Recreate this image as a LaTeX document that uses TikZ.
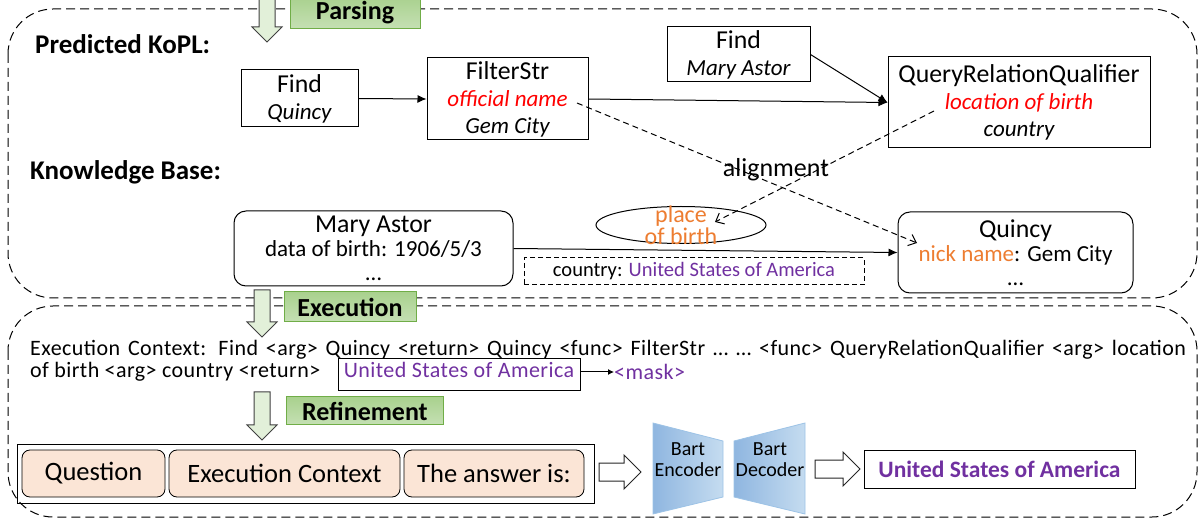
\documentclass[tikz,border=0pt]{standalone}
\usepackage{fontspec}
\setmainfont{Carlito}
\newfontfamily\ctxfamily[LetterSpace=2]{Carlito}
\usepackage{xcolor}
\usetikzlibrary{positioning,arrows.meta,shapes.geometric}

\definecolor{kred}{RGB}{255,0,0}
\definecolor{korange}{RGB}{237,125,49}
\definecolor{kpurple}{RGB}{112,48,160}
\definecolor{kgreen}{RGB}{169,209,142}
\definecolor{kgreenlight}{RGB}{197,224,180}
\definecolor{kgreenline}{RGB}{112,173,71}
\definecolor{karrow}{RGB}{226,240,217}
\definecolor{kpeach}{RGB}{251,229,214}
\definecolor{kbluedark}{RGB}{143,182,224}
\definecolor{kbluelight}{RGB}{197,220,240}
\definecolor{kblueline}{RGB}{157,195,230}

\newcommand\ttlfont{\fontsize{25.8}{27}\selectfont}
\newcommand\argfont{\fontsize{23}{27}\selectfont\itshape}
\newcommand\kbfont{\fontsize{23}{24}\selectfont}
\newcommand\ctxfont{\fontsize{22}{23}\selectfont\ctxfamily}

\newcommand\blockdown[3]{% x, top, tip
  \draw[downarrow] (#1-8,#2) -- (#1+8,#2) -- (#1+8,#3-15) -- (#1+15,#3-15) -- (#1,#3)
    -- (#1-15,#3-15) -- (#1-8,#3-15) -- cycle;}
\newcommand\blockright[3]{% left, tip, y
  \draw[rightarrow] (#1,#3-9) -- (#2-17,#3-9) -- (#2-17,#3-17) -- (#2,#3) -- (#2-17,#3+17)
    -- (#2-17,#3+9) -- (#1,#3+9) -- cycle;}

\begin{document}
\begin{tikzpicture}[x=1pt,y=-1pt,
  every node/.style={inner sep=0pt},
  kopl/.style={draw,line width=1pt,align=center,font=\argfont},
  kb/.style={draw,line width=1pt,rounded corners=12pt,align=center,font=\kbfont},
  stage/.style={draw=kgreenline,line width=1pt,top color=kgreen,bottom color=kgreenlight,
    font=\fontsize{26}{28}\selectfont\bfseries},
  part/.style={draw,line width=0.8pt,rounded corners=8pt,fill=kpeach,font=\fontsize{26.5}{28}\selectfont},
  downarrow/.style={draw=black!75,line width=1pt,fill=karrow},
  rightarrow/.style={draw=black!85,line width=1pt,fill=white},
  panel/.style={draw,line width=1pt,dash pattern=on 9pt off 5pt,rounded corners=45pt},
  flow/.style={-{Latex[length=9pt,width=8pt]},line width=1pt},
  link/.style={-{Straight Barb[length=7pt,width=12pt]},line width=1pt,dash pattern=on 6pt off 4pt},
  bart/.style={left color=kbluedark,right color=kbluelight,draw=kblueline,line width=0.8pt}]
  \useasboundingbox (0,0) rectangle (1203,521);
  % panels
  \draw[panel] (8,9) rectangle (1197,298);
  \draw[panel] (8,306) rectangle (1197,517);
  % parsing
  \blockdown{267}{-5}{42}
  \node[stage,minimum width=130,minimum height=32] at(355,13)(parsing){Parsing};
  \node[anchor=west,font=\fontsize{27}{28}\selectfont\bfseries] at(35,44)(kopl){Predicted KoPL:};
  \node[kopl,minimum width=117,minimum height=57] at(299.5,98.5)(fq){{\ttlfont\upshape Find}\\Quincy};
  \node[kopl,minimum width=161,minimum height=82] at(507.5,99)(fs){{\ttlfont\upshape FilterStr}\\
    \textcolor{kred}{official name}\\Gem City};
  \node[kopl,minimum width=143,minimum height=55] at(738.5,54.5)(fm){{\ttlfont\upshape Find}\\Mary Astor};
  \node[kopl,minimum width=262,minimum height=91] at(1019,102.5)(qrq){{\ttlfont\upshape QueryRelationQualifier}\\
    \textcolor{kred}{location of birth}\\country};
  \draw[flow] (fq.east) -- (fs.west);
  \draw[flow] (fs.east) -- (qrq.west);
  \draw[flow] (fm.east) -- (qrq.west);
  % knowledge base
  \node[anchor=west,font=\fontsize{27}{28}\selectfont\bfseries] at(30,172)(kbase){Knowledge Base:};
  \node[font=\fontsize{26}{28}\selectfont] at(776,170)(align){alignment};
  \node[kb,minimum width=279,minimum height=75] at(373.5,248.5)(ma){{\ttlfont Mary Astor}\\
    data of birth: 1906/5/3\\\dots};
  \node[kb,minimum width=235,minimum height=81] at(1015.5,252.5)(qk){{\ttlfont Quincy}\\
    \textcolor{korange}{nick name}: Gem City\\\dots};
  \node[draw,ellipse,line width=1pt,minimum width=170,minimum height=37] at(681,225)(pob){};
  \node[align=center,text=korange,font=\fontsize{24}{22}\selectfont] at(pob.center)(pobtext){place\\of birth};
  \node[draw,line width=1pt,dash pattern=on 5pt off 3pt,minimum width=340,minimum height=27,
    font=\fontsize{20.5}{22}\selectfont] at(694,271.5)(ctry){country: \textcolor{kpurple}{United States of America}};
  \draw[flow] (ma.east) -- (qk.west);
  \coordinate (offname) at (577,103);
  \coordinate (nickname) at (917,243);
  \coordinate (locbirth) at (934,111);
  \coordinate (placebirth) at (715,222);
  \draw[link] (offname) -- (nickname);
  \draw[link] (locbirth) -- (placebirth);
  % execution
  \blockdown{262}{290}{337}
  \node[stage,minimum width=132,minimum height=30] at(350,307)(execution){Execution};
  \node[anchor=west,font=\ctxfont] at(30,350)(ctx1){\makebox[1156pt][s]{Execution Context: Find <arg> Quincy <return>
    Quincy <func> FilterStr \dots{} \dots{} <func> QueryRelationQualifier <arg> location}};
  \node[anchor=west,font=\ctxfont] at(30,372)(ctx2){of birth <arg> country <return>};
  \node[draw,line width=1pt,minimum width=242,minimum height=32,text height=15,text depth=10,
    text=kpurple,font=\ctxfont] at(459,375)(usa){United States of America};
  \node[anchor=west,text=kpurple,font=\ctxfont] at(614,372)(mask){<mask>};
  \draw[-{Latex[length=6pt,width=6pt]},line width=1pt] (usa.east|-mask.west) -- (mask.west);
  % refinement
  \blockdown{262}{392}{440}
  \node[stage,minimum width=157,minimum height=28] at(365,411)(refine){Refinement};
  \node[draw,line width=1pt,minimum width=577,minimum height=59] at(305.5,473.5)(input){};
  \node[part,minimum width=143,minimum height=47] at(93.5,473.5)(question){Question};
  \node[part,minimum width=231,minimum height=47] at(284.5,473.5)(context){Execution Context};
  \node[part,minimum width=180,minimum height=47] at(494,473.5)(answer){The answer is:};
  \blockright{599}{641}{472}
  \draw[bart] (653,423) -- (723,441) -- (723,497) -- (653,514) -- cycle;
  \draw[bart] (734,441) -- (805,423) -- (805,514) -- (734,497) -- cycle;
  \node[align=center,font=\fontsize{20}{21}\selectfont] at(688,460)(enc){Bart\\Encoder};
  \node[align=center,font=\fontsize{20}{21}\selectfont] at(770,460)(dec){Bart\\Decoder};
  \blockright{815}{860}{469}
  \node[draw,line width=1pt,minimum width=271,minimum height=38,text=kpurple,
    font=\fontsize{23.5}{24}\selectfont\bfseries] at(999.5,469)(output){United States of America};
\end{tikzpicture}
\end{document}
